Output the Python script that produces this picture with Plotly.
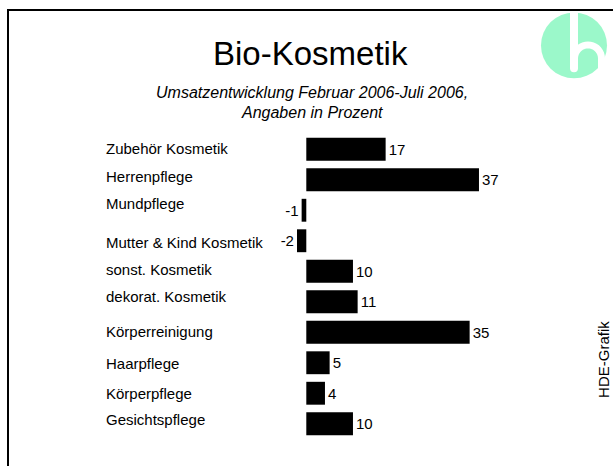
import math
import plotly.graph_objects as go

# ---- data ----
categories = ["Zubehör Kosmetik", "Herrenpflege", "Mundpflege", "Mutter & Kind Kosmetik",
              "sonst. Kosmetik", "dekorat. Kosmetik", "Körperreinigung", "Haarpflege",
              "Körperpflege", "Gesichtspflege"]
values = [17, 37, -1, -2, 10, 11, 35, 5, 4, 10]
title_text = "Bio-Kosmetik"
subtitle_lines = ["Umsatzentwicklung Februar 2006-Juli 2006,", "Angaben in Prozent"]
credit_text = "HDE-Grafik"

# ---- layout geometry (pixels) ----
W, H = 613, 466
T, B = 133.75, 26.75
zero_px, ppu = 306.3, 4.667
plot_h = H - T - B
label_yshift = [1, 3, 7, -2, 2, 5, 1, -1, 0, 4]  # small vertical offsets of the category labels

def px(x):
    return x / W

def py(y):
    return (H - B - y) / plot_h

FONT = "Liberation Sans, Arial, Helvetica, sans-serif"

fig = go.Figure(go.Bar(
    y=categories, x=values, orientation="h",
    marker=dict(color="black", line=dict(width=0)),
    width=0.75,
    text=[str(v) for v in values], textposition="outside",
    textfont=dict(size=15, color="black", family=FONT),
    constraintext="none", cliponaxis=False, hoverinfo="skip",
))

annotations = []
annotations.append(dict(text=title_text, xref="paper", yref="paper", x=px(310), y=py(53.5),
                        xanchor="center", yanchor="middle", showarrow=False,
                        font=dict(size=33, color="black", family=FONT)))
for line, ypix in zip(subtitle_lines, [92.5, 112.5]):
    annotations.append(dict(text="<i>" + line + "</i>", xref="paper", yref="paper", x=px(312), y=py(ypix),
                            xanchor="center", yanchor="middle", showarrow=False,
                            font=dict(size=16, color="black", family=FONT)))
for c, s in zip(categories, label_yshift):
    annotations.append(dict(text=c, xref="paper", yref="y", x=px(104), y=c, yshift=s,
                            xanchor="left", yanchor="middle", showarrow=False,
                            font=dict(size=15, color="black", family=FONT)))
annotations.append(dict(text=credit_text, xref="paper", yref="paper", x=px(604), y=py(360),
                        xanchor="center", yanchor="middle", showarrow=False, textangle=-90,
                        font=dict(size=15, color="black", family=FONT)))

shapes = []
# frame
shapes.append(dict(type="path", xref="paper", yref="paper",
                   path=f"M {px(8)},{py(475)} L {px(8)},{py(9.5)} L {px(620)},{py(9.5)}",
                   line=dict(color="black", width=2)))
# logo circle
shapes.append(dict(type="circle", xref="paper", yref="paper",
                   x0=px(541), x1=px(607), y0=py(78), y1=py(12),
                   fillcolor="#9BF8CA", line=dict(width=0)))
# vertical stroke of h
shapes.append(dict(type="line", xref="paper", yref="paper",
                   x0=px(574), x1=px(574), y0=py(11), y1=py(68),
                   line=dict(color="white", width=8)))
shapes.append(dict(type="circle", xref="paper", yref="paper",
                   x0=px(570), x1=px(578), y0=py(72), y1=py(64),
                   fillcolor="white", line=dict(width=0)))
# arc of h
cx, cy, r = 588, 58, 13.5
pts = []
for k in range(0, 19):
    th = math.radians(180 - k * 10)
    pts.append((cx + r * math.cos(th), cy - r * math.sin(th)))
pts.append((cx + r, 84))
path = "M " + " L ".join(f"{px(a)},{py(b)}" for a, b in pts)
shapes.append(dict(type="path", xref="paper", yref="paper", path=path,
                   line=dict(color="white", width=7)))

fig.update_layout(
    width=W, height=H,
    margin=dict(l=0, r=0, t=T, b=B, pad=0),
    paper_bgcolor="white", plot_bgcolor="white",
    showlegend=False,
    xaxis=dict(range=[(0 - zero_px) / ppu, (W - zero_px) / ppu], visible=False,
               showgrid=False, zeroline=False, fixedrange=True),
    yaxis=dict(autorange="reversed", visible=False, showgrid=False, zeroline=False,
               fixedrange=True),
    annotations=annotations, shapes=shapes,
    bargap=0.25,
)

fig.write_html("out.html", config={"displayModeBar": False},
               post_script="document.body.style.margin='0';document.body.style.overflow='hidden';")
